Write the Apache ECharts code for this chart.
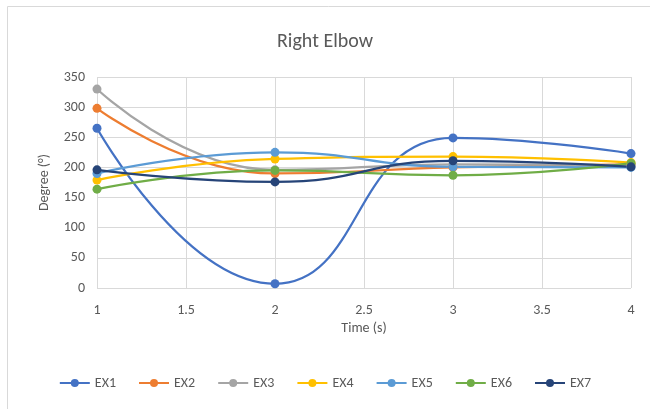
<!DOCTYPE html>
<html>
<head>
<meta charset="utf-8">
<script src="https://cdn.jsdelivr.net/npm/echarts@6/dist/echarts.min.js"></script>
<style>
  html, body { margin: 0; padding: 0; background: #fff; }
  #chart { width: 650px; height: 409px; }
</style>
</head>
<body>
<div id="chart"></div>
<script>
// time points (s)
const times = [1, 2, 3, 4];
const seriesNames = ['EX1', 'EX2', 'EX3', 'EX4', 'EX5', 'EX6', 'EX7'];
const ex1 = [265, 7, 249, 223];
const ex2 = [298, 190, 200, 205];
const ex3 = [330, 196, 205, 204];
const ex4 = [179, 214, 218, 208];
const ex5 = [190, 225, 201, 200];
const ex6 = [164, 195, 187, 207];
const ex7 = [196, 176, 211, 201];
const colors = ['#4472C4', '#ED7D31', '#A5A5A5', '#FFC000', '#5B9BD5', '#70AD47', '#264478'];

const allValues = [ex1, ex2, ex3, ex4, ex5, ex6, ex7];
const font = 'Calibri, Carlito, "Open Sans", sans-serif';

const chart = echarts.init(document.getElementById('chart'));
chart.setOption({
  animation: false,
  color: colors,
  // chart area border (top and left edges visible in the screenshot)
  graphic: [
    { type: 'line', shape: { x1: 7.5, y1: 6.5, x2: 7.5, y2: 409 }, style: { stroke: '#D9D9D9', lineWidth: 1 } },
    { type: 'line', shape: { x1: 7.5, y1: 6.5, x2: 650, y2: 6.5 }, style: { stroke: '#D9D9D9', lineWidth: 1 } }
  ],
  title: {
    text: 'Right Elbow',
    left: 'center',
    top: 27,
    textStyle: { fontFamily: font, fontSize: 20, fontWeight: 'normal', color: '#595959' }
  },
  legend: {
    bottom: 14,
    left: 'center',
    itemGap: 22,
    itemWidth: 30,
    itemHeight: 10,
    textStyle: { fontFamily: font, fontSize: 14, color: '#595959' },
    data: seriesNames
  },
  grid: { left: 97, right: 19, top: 77, bottom: 121 },
  xAxis: {
    type: 'value',
    min: 1, max: 4, interval: 0.5,
    name: 'Time (s)',
    nameLocation: 'middle',
    nameGap: 29,
    nameTextStyle: { fontFamily: font, fontSize: 14, color: '#595959' },
    axisLine: { show: false },
    axisTick: { show: false },
    axisLabel: { fontFamily: font, fontSize: 14, color: '#595959', margin: 15 },
    splitLine: { lineStyle: { color: '#D9D9D9' } }
  },
  yAxis: {
    type: 'value',
    min: 0, max: 350, interval: 50,
    name: 'Degree (°)',
    nameLocation: 'middle',
    nameGap: 46,
    nameTextStyle: { fontFamily: font, fontSize: 14, color: '#595959' },
    axisLine: { show: false },
    axisTick: { show: false },
    axisLabel: { fontFamily: font, fontSize: 14, color: '#595959', margin: 12 },
    splitLine: { lineStyle: { color: '#D9D9D9' } }
  },
  series: seriesNames.map((name, i) => ({
    name: name,
    type: 'line',
    smooth: 0.5,
    symbol: 'circle',
    symbolSize: 9,
    lineStyle: { width: 2.25 },
    data: times.map((t, j) => [t, allValues[i][j]])
  }))
});
</script>
</body>
</html>
